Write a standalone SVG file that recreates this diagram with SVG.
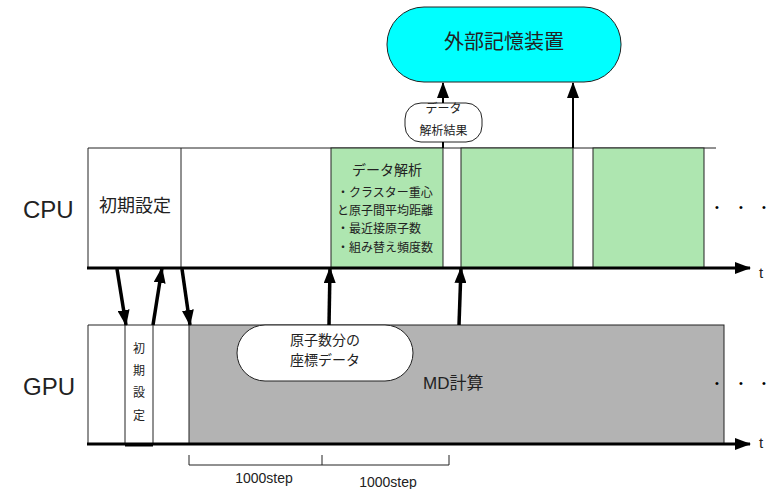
<svg xmlns="http://www.w3.org/2000/svg" width="769" height="489" viewBox="0 0 769 489">
<style>
text{font-family:"Liberation Sans","Noto Sans CJK JP",sans-serif;fill:#222}
.thin{fill:none;stroke:#222;stroke-width:1}
.green{fill:#aee6b0;stroke:#222;stroke-width:1}
.axis{stroke:#000;stroke-width:3;fill:none}
.arr{stroke:#000;stroke-width:3.5;fill:none}
.arr2{stroke:#000;stroke-width:2;fill:none}
.c{text-anchor:middle}
.dots{font-size:11px;text-anchor:middle;fill:#000}
</style>
<defs>
<marker id="ah" viewBox="0 0 16 12" refX="15" refY="6" markerWidth="16" markerHeight="12" markerUnits="userSpaceOnUse" orient="auto">
<path d="M0,0 L16,6 L0,12 z" fill="#000"/>
</marker>
</defs>

<g id="labels">
<text x="23" y="218" font-size="24">CPU</text>
<text x="23" y="395" font-size="24">GPU</text>
</g>

<g id="storage">
<rect x="387" y="7" width="234" height="75" rx="37" ry="37" fill="#00ffff" stroke="#222" stroke-width="1"/>
<text x="504" y="49" font-size="20" class="c">外部記憶装置</text>
</g>

<g id="cpu-bar">
<path class="thin" d="M88,268 V148 H716"/>
<line class="thin" x1="181" y1="148" x2="181" y2="268"/>
</g>

<g id="cpu-init">
<text x="135" y="212" font-size="18" class="c">初期設定</text>
</g>

<g id="cpu-analysis1">
<rect class="green" x="331" y="148" width="112" height="120"/>
<text x="387" y="175" font-size="14" class="c">データ解析</text>
<text x="337" y="196.5" font-size="12">・クラスター重心</text>
<text x="337" y="214.5" font-size="12">と原子間平均距離</text>
<text x="337" y="232.5" font-size="12">・最近接原子数</text>
<text x="337" y="251.5" font-size="12">・組み替え頻度数</text>
</g>
<g id="cpu-analysis2">
<rect class="green" x="461" y="148" width="112" height="120"/>
</g>
<g id="cpu-analysis3">
<rect class="green" x="593" y="148" width="111" height="120"/>
</g>
<g id="cpu-dots">
<text y="210.5" class="dots"><tspan x="717">•</tspan><tspan x="741">•</tspan><tspan x="764">•</tspan></text>
</g>

<g id="result-label">
<rect x="405" y="103" width="77" height="39" rx="16" ry="16" fill="#fff" stroke="#222" stroke-width="1"/>
<text x="443.5" y="112.5" font-size="12" class="c">データ</text>
<text x="443.5" y="134.5" font-size="12" class="c">解析結果</text>
</g>

<g id="gpu-bar">
<rect x="189" y="325" width="535" height="119" fill="#b3b3b3" stroke="#222" stroke-width="1"/>
<path class="thin" d="M88,444 V325 H189"/>
<line class="thin" x1="125" y1="325" x2="125" y2="444"/>
<line class="thin" x1="153" y1="325" x2="153" y2="444"/>
<line x1="125" y1="445.5" x2="153" y2="445.5" stroke="#000" stroke-width="2"/>
</g>
<g id="gpu-init">
<text x="139" font-size="12" class="c"><tspan x="139" y="352.5">初</tspan><tspan x="139" y="375">期</tspan><tspan x="139" y="397">設</tspan><tspan x="139" y="419.5">定</tspan></text>
</g>
<g id="coord-label">
<rect x="237" y="325" width="176" height="56" rx="28" ry="28" fill="#fff" stroke="#222" stroke-width="1"/>
<text x="325" y="345" font-size="14" class="c">原子数分の</text>
<text x="325" y="365" font-size="14" class="c">座標データ</text>
</g>
<g id="md">
<text x="423" y="389" font-size="17">MD計算</text>
</g>
<g id="gpu-dots">
<text y="386.5" class="dots"><tspan x="717">•</tspan><tspan x="741">•</tspan><tspan x="764">•</tspan></text>
</g>

<g id="axes">
<line class="axis" x1="87" y1="268" x2="750" y2="268" marker-end="url(#ah)"/>
<line class="axis" x1="87" y1="444" x2="750" y2="444" marker-end="url(#ah)"/>
<text x="759" y="278" font-size="15">t</text>
<text x="759" y="448" font-size="15">t</text>
</g>

<g id="steps">
<path class="thin" d="M189,455 V465 H449 V455 M322,455 V465"/>
<text x="264" y="483" font-size="14" class="c">1000step</text>
<text x="388" y="487" font-size="14" class="c">1000step</text>
</g>

<g id="connectors">
<line class="arr" x1="117" y1="269" x2="126" y2="325" marker-end="url(#ah)"/>
<line class="arr" x1="153" y1="325" x2="162" y2="268" marker-end="url(#ah)"/>
<line class="arr" x1="182" y1="269" x2="190" y2="325" marker-end="url(#ah)"/>
<line class="arr" x1="329" y1="325" x2="330" y2="268" marker-end="url(#ah)"/>
<line class="arr" x1="459" y1="325" x2="461" y2="268" marker-end="url(#ah)"/>
<line class="arr2" x1="443" y1="148" x2="443" y2="142"/>
<line class="arr2" x1="443" y1="103" x2="443" y2="83" marker-end="url(#ah)"/>
<line class="arr2" x1="573" y1="148" x2="573" y2="83" marker-end="url(#ah)"/>
</g>
</svg>
